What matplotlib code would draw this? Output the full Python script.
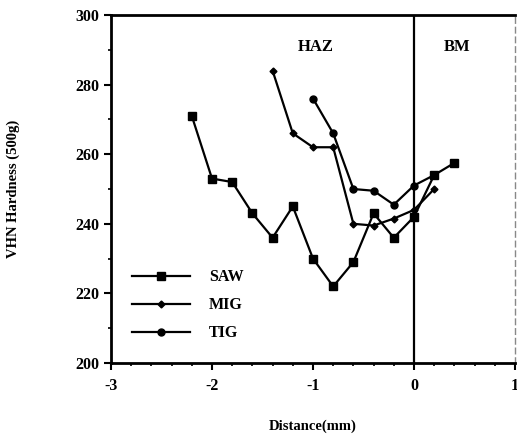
import matplotlib
matplotlib.use("Agg")
import matplotlib.pyplot as plt
from matplotlib.ticker import MultipleLocator

# data
saw_x = [-2.2, -2.0, -1.8, -1.6, -1.4, -1.2, -1.0, -0.8, -0.6, -0.4, -0.2, 0.0, 0.2, 0.4]
saw_y = [271, 253, 252, 243, 236, 245, 230, 222, 229, 243, 236, 242, 254, 257.5]
mig_x = [-1.4, -1.2, -1.0, -0.8, -0.6, -0.4, -0.2, 0.0, 0.2]
mig_y = [284, 266, 262, 262, 240, 239.5, 241.5, 244, 250]
tig_x = [-1.0, -0.8, -0.6, -0.4, -0.2, 0.0, 0.2]
tig_y = [276, 266, 250, 249.5, 245.5, 251, 254]
xticks = [-3, -2, -1, 0, 1]
yticks = [200, 220, 240, 260, 280, 300]

plt.rcParams['font.family'] = ['Liberation Serif', 'DejaVu Serif']
plt.rcParams['font.weight'] = 'bold'

fig = plt.figure(figsize=(5.17, 4.36), dpi=100)
ax = fig.add_axes([0.2147, 0.1674, 0.7814, 0.7982])

ax.plot(saw_x, saw_y, color='black', lw=1.6, marker='s', ms=5.5,
        mfc='black', mec='black', label='SAW')
ax.plot(mig_x, mig_y, color='black', lw=1.6, marker='D', ms=3.5,
        label='MIG')
ax.plot(tig_x, tig_y, color='black', lw=1.6, marker='o', ms=5,
        label='TIG')

ax.axvline(0, color='black', lw=1.6)
ax.text(-0.97, 290.8, 'HAZ', ha='center', va='center', fontsize=12, fontweight='bold')
ax.text(0.43, 290.8, 'BM', ha='center', va='center', fontsize=12, fontweight='bold')

ax.set_xlim(-3, 1)
ax.set_ylim(200, 300)
ax.set_xticks(xticks)
ax.set_xticklabels(['-3', '-2', '-1', '0', '1'])
ax.set_yticks(yticks)
ax.xaxis.set_minor_locator(MultipleLocator(0.2))
ax.yaxis.set_minor_locator(MultipleLocator(10))
ax.tick_params(axis='both', which='major', direction='out', length=5, width=1.5,
               labelsize=11.5)
ax.tick_params(axis='both', which='minor', direction='out', length=2.5, width=1.2)
ax.tick_params(axis='x', pad=6)

for side in ['left', 'bottom', 'top']:
    ax.spines[side].set_linewidth(2)
ax.spines['right'].set_linewidth(1)
ax.spines['right'].set_linestyle((0, (4, 3)))
ax.spines['right'].set_color('#888888')

ax.set_xlabel('Distance(mm)', fontsize=10.5, fontweight='bold', labelpad=18)
ax.set_ylabel('VHN Hardness (500g)', fontsize=10.5, fontweight='bold', labelpad=40)

leg = ax.legend(loc='lower left', bbox_to_anchor=(0.025, 0.03), frameon=False,
                fontsize=11.5, handlelength=3.6, handletextpad=1.2,
                labelspacing=0.75, borderaxespad=0.3)

fig.savefig('out.png', dpi=100)
